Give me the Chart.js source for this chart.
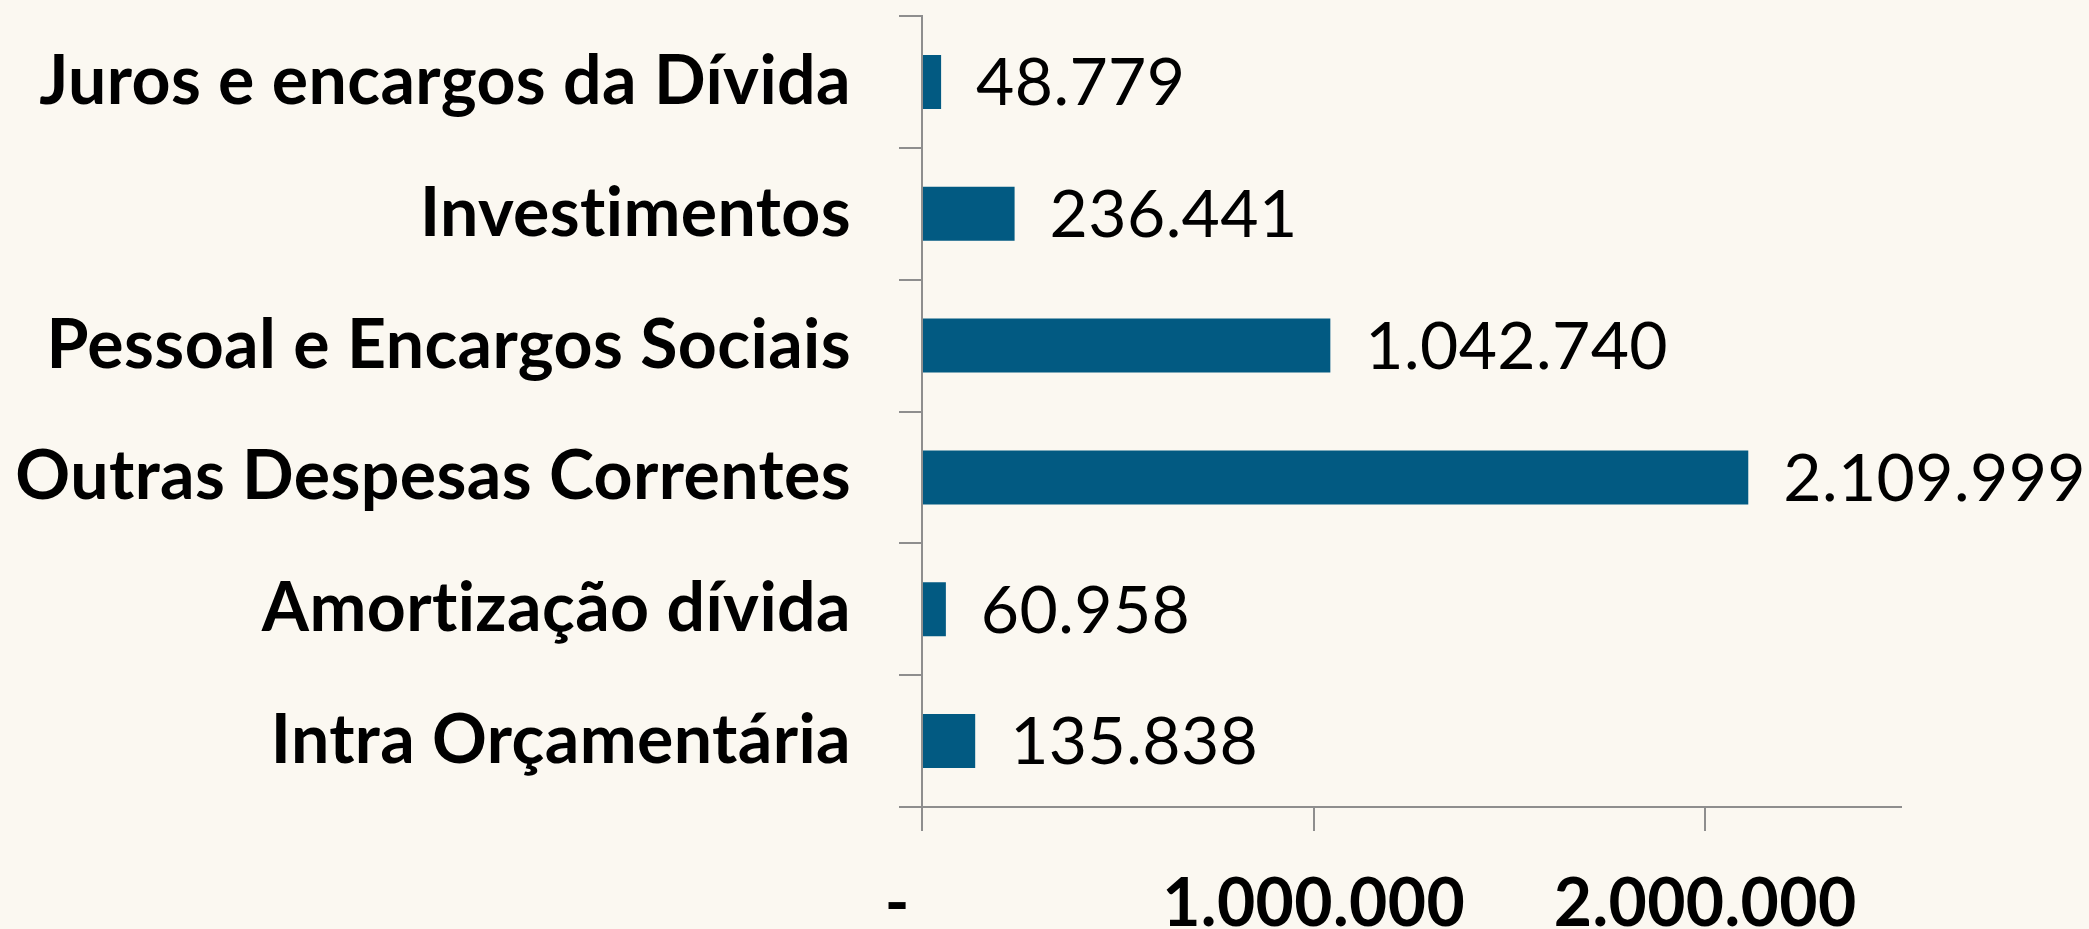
<!DOCTYPE html>
<html>
<head>
<meta charset="utf-8">
<script src="https://cdn.jsdelivr.net/npm/chart.js@4/dist/chart.umd.min.js"></script>
<style>
  html, body { margin: 0; padding: 0; background: #fbf8f1; }
  canvas { display: block; }
</style>
</head>
<body>
<canvas id="grafico" width="2089" height="929"></canvas>
<script>
let categorias = ['Juros e encargos da Dívida', 'Investimentos', 'Pessoal e Encargos Sociais', 'Outras Despesas Correntes', 'Amortização dívida', 'Intra Orçamentária'];
let valores = [48779, 236441, 1042740, 2109999, 60958, 135838];
let ticks_x = [0, 1000000, 2000000];

// 1234567 -> 1.234.567, zero vira traço (formato contábil)
function fmt(n) {
    if (n === 0) return '-   ';
    return String(Math.round(n)).replace(/\B(?=(\d{3})+(?!\d))/g, '.');
}

// sem ligaduras (ti) no Lato
const semLigadura = {
    id: 'semLigadura',
    beforeDraw(chart) { chart.ctx.letterSpacing = '0.4px'; }
};

const rotulos = {
    id: 'rotulos',
    afterDatasetsDraw(chart) {
        const ctx = chart.ctx;
        const meta = chart.getDatasetMeta(0);
        ctx.save();
        ctx.font = '66px Lato';
        ctx.fillStyle = '#000';
        ctx.textAlign = 'left';
        ctx.textBaseline = 'middle';
        meta.data.forEach(function(bar, i) {
            ctx.fillText(fmt(valores[i]), bar.x + 35, bar.y + 2);
        });
        ctx.restore();
    }
};

const grafico = new Chart('grafico', {
    type: 'bar',
    data: {
        labels: categorias,
        datasets: [{
            data: valores,
            backgroundColor: '#025a82',
            barPercentage: 0.41,
            categoryPercentage: 1
        }]
    },
    options: {
        indexAxis: 'y',
        responsive: false,
        animation: false,
        layout: { padding: { top: 16, right: 188, left: 0, bottom: 0 } },
        plugins: { legend: { display: false }, tooltip: { enabled: false } },
        scales: {
            x: {
                min: 0,
                max: 2500000,
                afterBuildTicks: s => { s.ticks = ticks_x.map(v => ({ value: v })); },
                afterFit: s => { s.height = 122; s.paddingLeft = 0; s.paddingRight = 0; },
                border: { display: true, color: '#8e8e8e', width: 2 },
                grid: { drawOnChartArea: false, drawTicks: true, tickLength: 24, color: '#8e8e8e', lineWidth: 2 },
                ticks: {
                    color: '#000',
                    padding: 41,
                    maxRotation: 0,
                    font: { family: 'Lato', weight: 'bold', size: 66, lineHeight: 1 },
                    callback: v => fmt(v)
                }
            },
            y: {
                afterFit: s => { s.width = 922; s.paddingTop = 0; s.paddingBottom = 0; },
                border: { display: true, color: '#8e8e8e', width: 2 },
                grid: { drawOnChartArea: false, drawTicks: true, tickLength: 23, color: '#8e8e8e', lineWidth: 2 },
                ticks: {
                    color: '#000',
                    padding: 48,
                    font: { family: 'Lato', weight: 'bold', size: 68 }
                }
            }
        }
    },
    plugins: [semLigadura, rotulos]
});
</script>
</body>
</html>
